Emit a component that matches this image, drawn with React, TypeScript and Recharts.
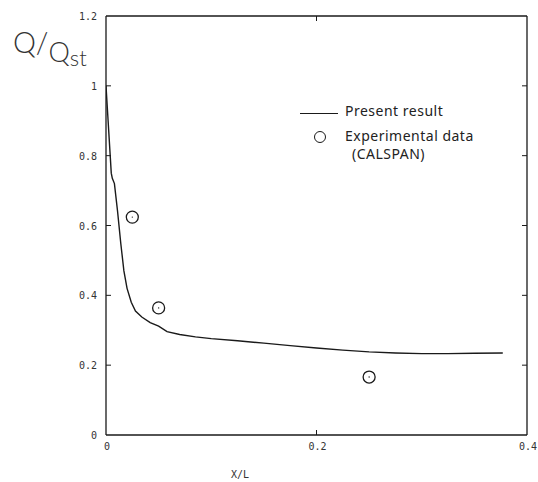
import { ComposedChart, Line, Scatter, XAxis, YAxis } from "recharts";

// computed heat transfer ratio along the body
const resultX = [0, 0.002, 0.004, 0.005, 0.006, 0.008, 0.011, 0.014, 0.017, 0.02, 0.024, 0.028, 0.034, 0.042, 0.05, 0.058, 0.07, 0.085, 0.1, 0.125, 0.15, 0.175, 0.2, 0.225, 0.25, 0.275, 0.3, 0.325, 0.35, 0.377];
const resultQ = [1.0, 0.9, 0.8, 0.75, 0.735, 0.72, 0.64, 0.55, 0.47, 0.42, 0.38, 0.355, 0.338, 0.322, 0.312, 0.296, 0.288, 0.281, 0.276, 0.27, 0.263, 0.256, 0.249, 0.243, 0.238, 0.235, 0.233, 0.233, 0.234, 0.235];

// CALSPAN experiment
const expX = [0.025, 0.05, 0.25];
const expQ = [0.624, 0.364, 0.166];

const xTicks = [0, 0.2, 0.4];
const yTicks = [0, 0.2, 0.4, 0.6, 0.8, 1, 1.2];

const resultData = resultX.map((x, i) => ({ x, q: resultQ[i] }));
const expData = expX.map((x, i) => ({ x, q: expQ[i] }));

const ink = "#1a1a1a";
const mono = "'DejaVu Sans Mono', monospace";

const LeftTick = (p: any) => {
  const v = p.payload.value;
  const inner = v !== 0 && v !== 1.2;
  return (
    <g>
      {inner && <line x1={p.x} x2={p.x + 5} y1={p.y} y2={p.y} stroke={ink} />}
      <text x={p.x - 9} y={p.y} dy={4} textAnchor="end" fontFamily={mono} fontSize={10} fill="#333">
        {String(v)}
      </text>
    </g>
  );
};

const RightTick = (p: any) => {
  const v = p.payload.value;
  if (v === 0 || v === 1.2) return <g />;
  return <line x1={p.x - 5} x2={p.x} y1={p.y} y2={p.y} stroke={ink} />;
};

const BottomTick = (p: any) => {
  const v = p.payload.value;
  const inner = v !== 0 && v !== 0.4;
  return (
    <g>
      {inner && <line x1={p.x} x2={p.x} y1={p.y - 5} y2={p.y} stroke={ink} />}
      <text x={p.x + 1} y={p.y + 15} textAnchor="middle" fontFamily={mono} fontSize={10} fill="#333">
        {String(v)}
      </text>
    </g>
  );
};

const TopTick = (p: any) => {
  const v = p.payload.value;
  if (v === 0 || v === 0.4) return <g />;
  return <line x1={p.x} x2={p.x} y1={p.y} y2={p.y + 5} stroke={ink} />;
};

const Ring = (p: any) => (
  <g>
    <circle cx={p.cx} cy={p.cy} r={6} fill="none" stroke={ink} strokeWidth={1.3} />
    <circle cx={p.cx} cy={p.cy} r={0.7} fill={ink} />
  </g>
);

const legendText = { fontFamily: "'Noto Sans', sans-serif", fontSize: 14, letterSpacing: 0.5, color: "#222", lineHeight: 1 };

export default function App() {
  return (
    <div style={{ position: "absolute", left: 0, top: 0, width: 538, height: 482, background: "#fff" }}>
      <ComposedChart width={538} height={482} margin={{ top: 15, right: 10, bottom: 17, left: 76 }}>
        <XAxis
          xAxisId="b" type="number" dataKey="x" domain={[0, 0.4]} ticks={xTicks}
          height={30} tickSize={0} tickMargin={0} tickLine={false} tick={BottomTick}
          axisLine={{ stroke: ink, strokeWidth: 1.3 }} allowDataOverflow
        />
        <XAxis
          xAxisId="t" orientation="top" type="number" dataKey="x" domain={[0, 0.4]} ticks={xTicks}
          height={1} tickSize={0} tickMargin={0} tickLine={false} tick={TopTick}
          axisLine={{ stroke: ink, strokeWidth: 1.3 }} allowDataOverflow
        />
        <YAxis
          yAxisId="l" type="number" dataKey="q" domain={[0, 1.2]} ticks={yTicks}
          width={30} tickSize={0} tickMargin={0} tickLine={false} tick={LeftTick}
          axisLine={{ stroke: ink, strokeWidth: 1.3 }} allowDataOverflow
        />
        <YAxis
          yAxisId="r" orientation="right" type="number" dataKey="q" domain={[0, 1.2]} ticks={yTicks}
          width={1} tickSize={0} tickMargin={0} tickLine={false} tick={RightTick}
          axisLine={{ stroke: ink, strokeWidth: 1.3 }} allowDataOverflow
        />
        <Line
          xAxisId="b" yAxisId="l" data={resultData} dataKey="q" type="linear"
          stroke={ink} strokeWidth={1.4} dot={false} isAnimationActive={false}
        />
        <Scatter
          xAxisId="b" yAxisId="l" data={expData} dataKey="q" shape={Ring} isAnimationActive={false}
        />
      </ComposedChart>
      <div style={{ position: "absolute", left: 300, top: 101, width: 200, height: 60 }}>
        <div style={{ position: "absolute", left: 0, top: 12, width: 38, borderTop: `1.5px solid ${ink}` }} />
        <div style={{ ...legendText, position: "absolute", left: 45, top: 3 }}>Present result</div>
        <div
          style={{
            position: "absolute", left: 14, top: 30, width: 10, height: 10,
            borderRadius: "50%", border: `1.3px solid ${ink}`,
          }}
        />
        <div style={{ ...legendText, position: "absolute", left: 45, top: 28 }}>Experimental data</div>
        <div style={{ ...legendText, position: "absolute", left: 52, top: 46 }}>(CALSPAN)</div>
      </div>
      <div
        style={{
          position: "absolute", left: 13, top: 30, fontFamily: "Lato, 'Noto Sans', sans-serif",
          fontWeight: 300, color: "#333", whiteSpace: "nowrap", lineHeight: 1,
        }}
      >
        <span style={{ fontSize: 29, position: "relative", top: -3 }}>Q</span>
        <span style={{ fontSize: 29, position: "relative", top: -3 }}>/</span>
        <span style={{ fontSize: 27, position: "relative", top: 6 }}>Q</span>
        <span style={{ fontSize: 22, position: "relative", top: 10 }}>st</span>
      </div>
      <div style={{ position: "absolute", left: 231, top: 469, fontFamily: mono, fontSize: 10, color: "#333" }}>
        X/L
      </div>
    </div>
  );
}
